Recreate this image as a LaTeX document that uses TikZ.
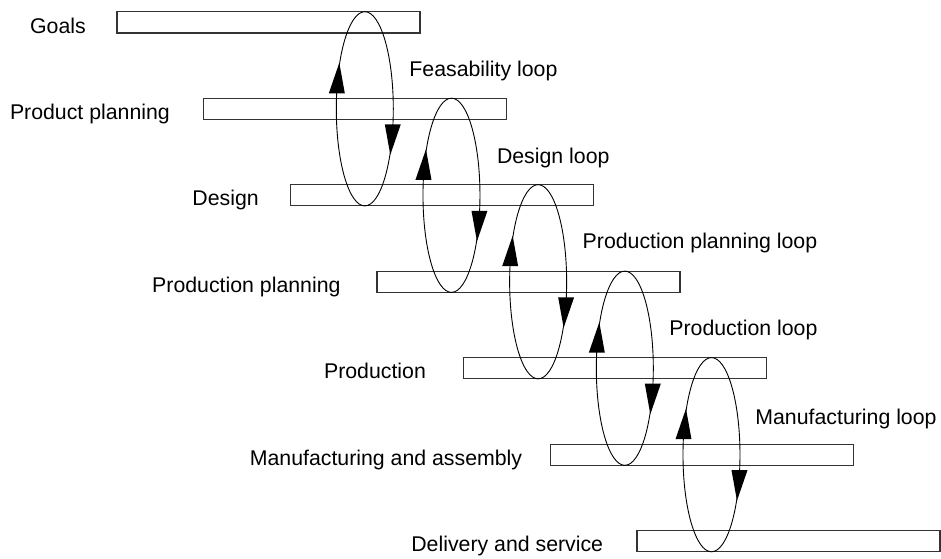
\documentclass[tikz,border=0pt]{standalone}
\usepackage{fontspec}
\setmainfont{Liberation Sans}
\begin{document}
\begin{tikzpicture}[x=1pt,y=-1pt,
  bar/.style={draw=black!80, line width=1.1pt, minimum width=303pt, minimum height=21.3pt, inner sep=0pt, outer sep=0pt, anchor=north west},
  txt/.style={font=\fontsize{21.3pt}{25pt}\selectfont, inner sep=0pt},
  stage/.style={txt, anchor=base east},
  looplabel/.style={txt, anchor=base west},
  loopline/.style={draw=black, line width=0.9pt},
  head/.style={fill=black, draw=none}]
\useasboundingbox (0,0) rectangle (941,558);
% bars
\foreach \k in {0,...,6} {
  \node[bar] (b\k) at ({117+86.67*\k},{11.7+86.47*\k}) {};
}
% stage labels
\node[stage] (s0) at ([xshift=-31pt]b0.south west) {Goals};
\node[stage] (s1) at ([xshift=-33.6pt]b1.south west) {Product planning};
\node[stage] (s2) at ([xshift=-31.4pt]b2.south west) {Design};
\node[stage] (s3) at ([xshift=-36.3pt]b3.south west) {Production planning};
\node[stage] (s4) at ([xshift=-37.6pt]b4.south west) {Production};
\node[stage] (s5) at ([xshift=-28pt]b5.south west) {Manufacturing and assembly};
\node[stage] (s6) at ([xshift=-33.7pt]b6.south west) {Delivery and service};
% loops
\foreach \k in {0,...,4} {
  \pgfmathsetmacro\cx{364.8+86.67*\k}
  \pgfmathsetmacro\cy{108.8+86.47*\k}
  \draw[loopline] (\cx,\cy) ellipse [x radius=28.5pt, y radius=97.1pt];
  \fill[head] (\cx-25.5,\cy-46) -- (\cx-36,\cy-15.5) -- (\cx-20,\cy-15.5) -- cycle;
  \fill[head] (\cx+25.5,\cy+46) -- (\cx+36,\cy+15.5) -- (\cx+20,\cy+15.5) -- cycle;
}
% loop labels
\node[looplabel] (l0) at (409.2,76) {Feasability loop};
\node[looplabel] (l1) at (496.8,163) {Design loop};
\node[looplabel] (l2) at (582.5,248.5) {Production planning loop};
\node[looplabel] (l3) at (669.2,335.7) {Production loop};
\node[looplabel] (l4) at (755.2,424) {Manufacturing loop};
\end{tikzpicture}
\end{document}
